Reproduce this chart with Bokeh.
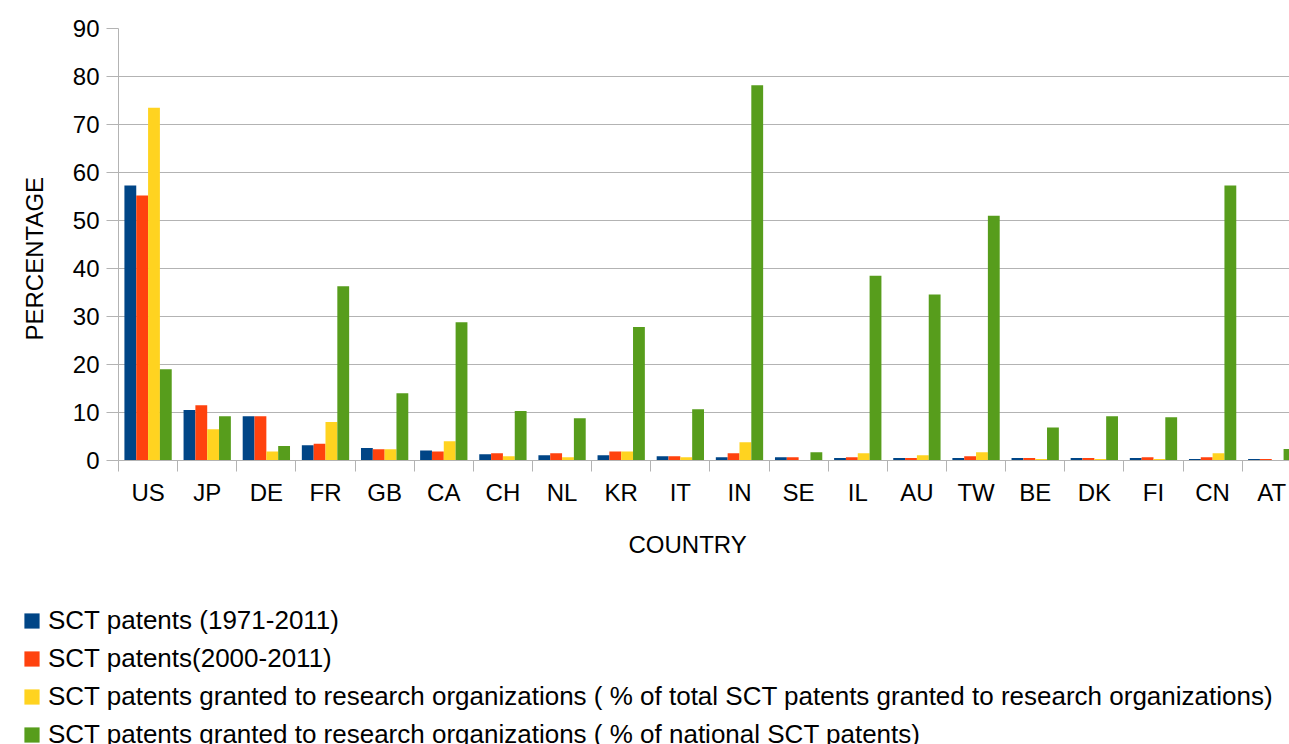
from bokeh.plotting import figure
from bokeh.models import (ColumnDataSource, FixedTicker, Legend, LegendItem, Range1d, Title)
from bokeh.layouts import column
from bokeh.embed import file_html
from bokeh.resources import INLINE

countries = ["US", "JP", "DE", "FR", "GB", "CA", "CH", "NL", "KR", "IT",
             "IN", "SE", "IL", "AU", "TW", "BE", "DK", "FI", "CN", "AT"]
sct_1971_2011 = [57.3, 10.5, 9.2, 3.2, 2.6, 2.1, 1.3, 1.1, 1.1, 0.9,
                 0.7, 0.7, 0.5, 0.5, 0.5, 0.5, 0.5, 0.5, 0.3, 0.3]
sct_2000_2011 = [55.2, 11.5, 9.2, 3.5, 2.35, 1.9, 1.5, 1.5, 1.9, 0.9,
                 1.5, 0.7, 0.7, 0.5, 0.9, 0.5, 0.5, 0.7, 0.7, 0.3]
ro_pct_total = [73.5, 6.5, 1.9, 8.0, 2.35, 4.0, 0.9, 0.7, 1.9, 0.7,
                3.8, 0.1, 1.5, 1.1, 1.7, 0.3, 0.3, 0.3, 1.5, 0.1]
ro_pct_national = [19.0, 9.2, 3.0, 36.3, 14.0, 28.8, 10.3, 8.8, 27.8, 10.7,
                   78.2, 1.7, 38.5, 34.6, 51.0, 6.9, 9.2, 9.0, 57.3, 2.4]

series_names = [
    "SCT patents (1971-2011)",
    "SCT patents(2000-2011)",
    "SCT patents granted to research organizations ( % of total SCT patents granted to research organizations)",
    "SCT patents granted to research organizations ( % of national SCT patents)",
]
series_values = [sct_1971_2011, sct_2000_2011, ro_pct_total, ro_pct_national]
colors = ["#004586", "#ff420e", "#ffd320", "#579d1c"]
offsets = [-0.3, -0.1, 0.1, 0.3]
y_ticks = [0, 10, 20, 30, 40, 50, 60, 70, 80, 90]

FONT = "Liberation Sans"
GRID = "#b3b3b3"

n = len(countries)
centers = [i + 0.5 for i in range(n)]
bounds = [float(i) for i in range(n + 1)]

sources = [ColumnDataSource(dict(x=[c + off for c in centers], top=vals))
           for vals, off in zip(series_values, offsets)]

p = figure(width=1289, height=600, output_backend="svg", toolbar_location=None,
           x_range=Range1d(0, 19.8), y_range=Range1d(0, 90),
           min_border_left=117, min_border_right=0, min_border_top=28,
           min_border_bottom=140)
p.outline_line_color = None
p.frame_align = False

for src, col in zip(sources, colors):
    p.vbar(x="x", top="top", width=0.2, bottom=0, source=src,
           fill_color=col, line_color=None)

# x axis
p.xaxis.ticker = FixedTicker(ticks=centers, minor_ticks=bounds)
p.xaxis.major_label_overrides = {c: lab for c, lab in zip(centers, countries)}
p.xaxis.major_tick_line_color = None
p.xaxis.major_tick_out = 0
p.xaxis.major_tick_in = 0
p.xaxis.minor_tick_line_color = GRID
p.xaxis.minor_tick_out = 11
p.xaxis.minor_tick_in = 0
p.xaxis.axis_line_color = GRID
p.xaxis.major_label_standoff = 7
p.xaxis.major_label_text_font = FONT
p.xaxis.major_label_text_font_size = "24px"
p.xaxis.major_label_text_color = "black"
p.xgrid.grid_line_color = None

# y axis
p.yaxis.ticker = FixedTicker(ticks=y_ticks)
p.yaxis.minor_tick_line_color = None
p.yaxis.major_tick_out = 12
p.yaxis.major_tick_in = 0
p.yaxis.major_tick_line_color = GRID
p.yaxis.axis_line_color = GRID
p.yaxis.major_label_standoff = 7
p.yaxis.major_label_text_font = FONT
p.yaxis.major_label_text_font_size = "24px"
p.yaxis.major_label_text_color = "black"
p.ygrid.grid_line_color = GRID

# axis titles as side-panel titles
p.add_layout(Title(text="COUNTRY", align="left", offset=510, standoff=40,
                   text_font=FONT, text_font_size="24px", text_color="black",
                   text_font_style="normal"), "below")
p.add_layout(Title(text="PERCENTAGE", align="left", offset=120, standoff=40,
                   vertical_align="top",
                   text_font=FONT, text_font_size="24px", text_color="black",
                   text_font_style="normal"), "left")

# legend figure (same data, hidden renderers provide the legend swatches)
lg = figure(width=1289, height=144, output_backend="svg", toolbar_location=None,
            x_range=Range1d(0, 19.8), y_range=Range1d(0, 90),
            min_border_left=0, min_border_right=0, min_border_top=0, min_border_bottom=0,
            x_axis_location=None, y_axis_location=None)
lg.outline_line_color = None
lg.frame_align = False
lg.xgrid.grid_line_color = None
lg.ygrid.grid_line_color = None
items = []
for name, src, col in zip(series_names, sources, colors):
    r = lg.vbar(x="x", top="top", width=0.2, bottom=0, source=src,
                fill_color=col, line_color=None, visible=False)
    items.append(LegendItem(label=name, renderers=[r]))
legend = Legend(items=items, location=(22, -6), orientation="vertical",
                glyph_width=19, glyph_height=19, label_standoff=7,
                label_text_font=FONT, label_text_font_size="26px", label_text_color="black",
                label_height=30, spacing=7, padding=0, margin=0,
                inactive_fill_alpha=0,
                border_line_color=None, background_fill_alpha=0)
lg.add_layout(legend, "center")

layout = column(p, lg, spacing=0)
open("out.html", "w").write(file_html(layout, INLINE))
